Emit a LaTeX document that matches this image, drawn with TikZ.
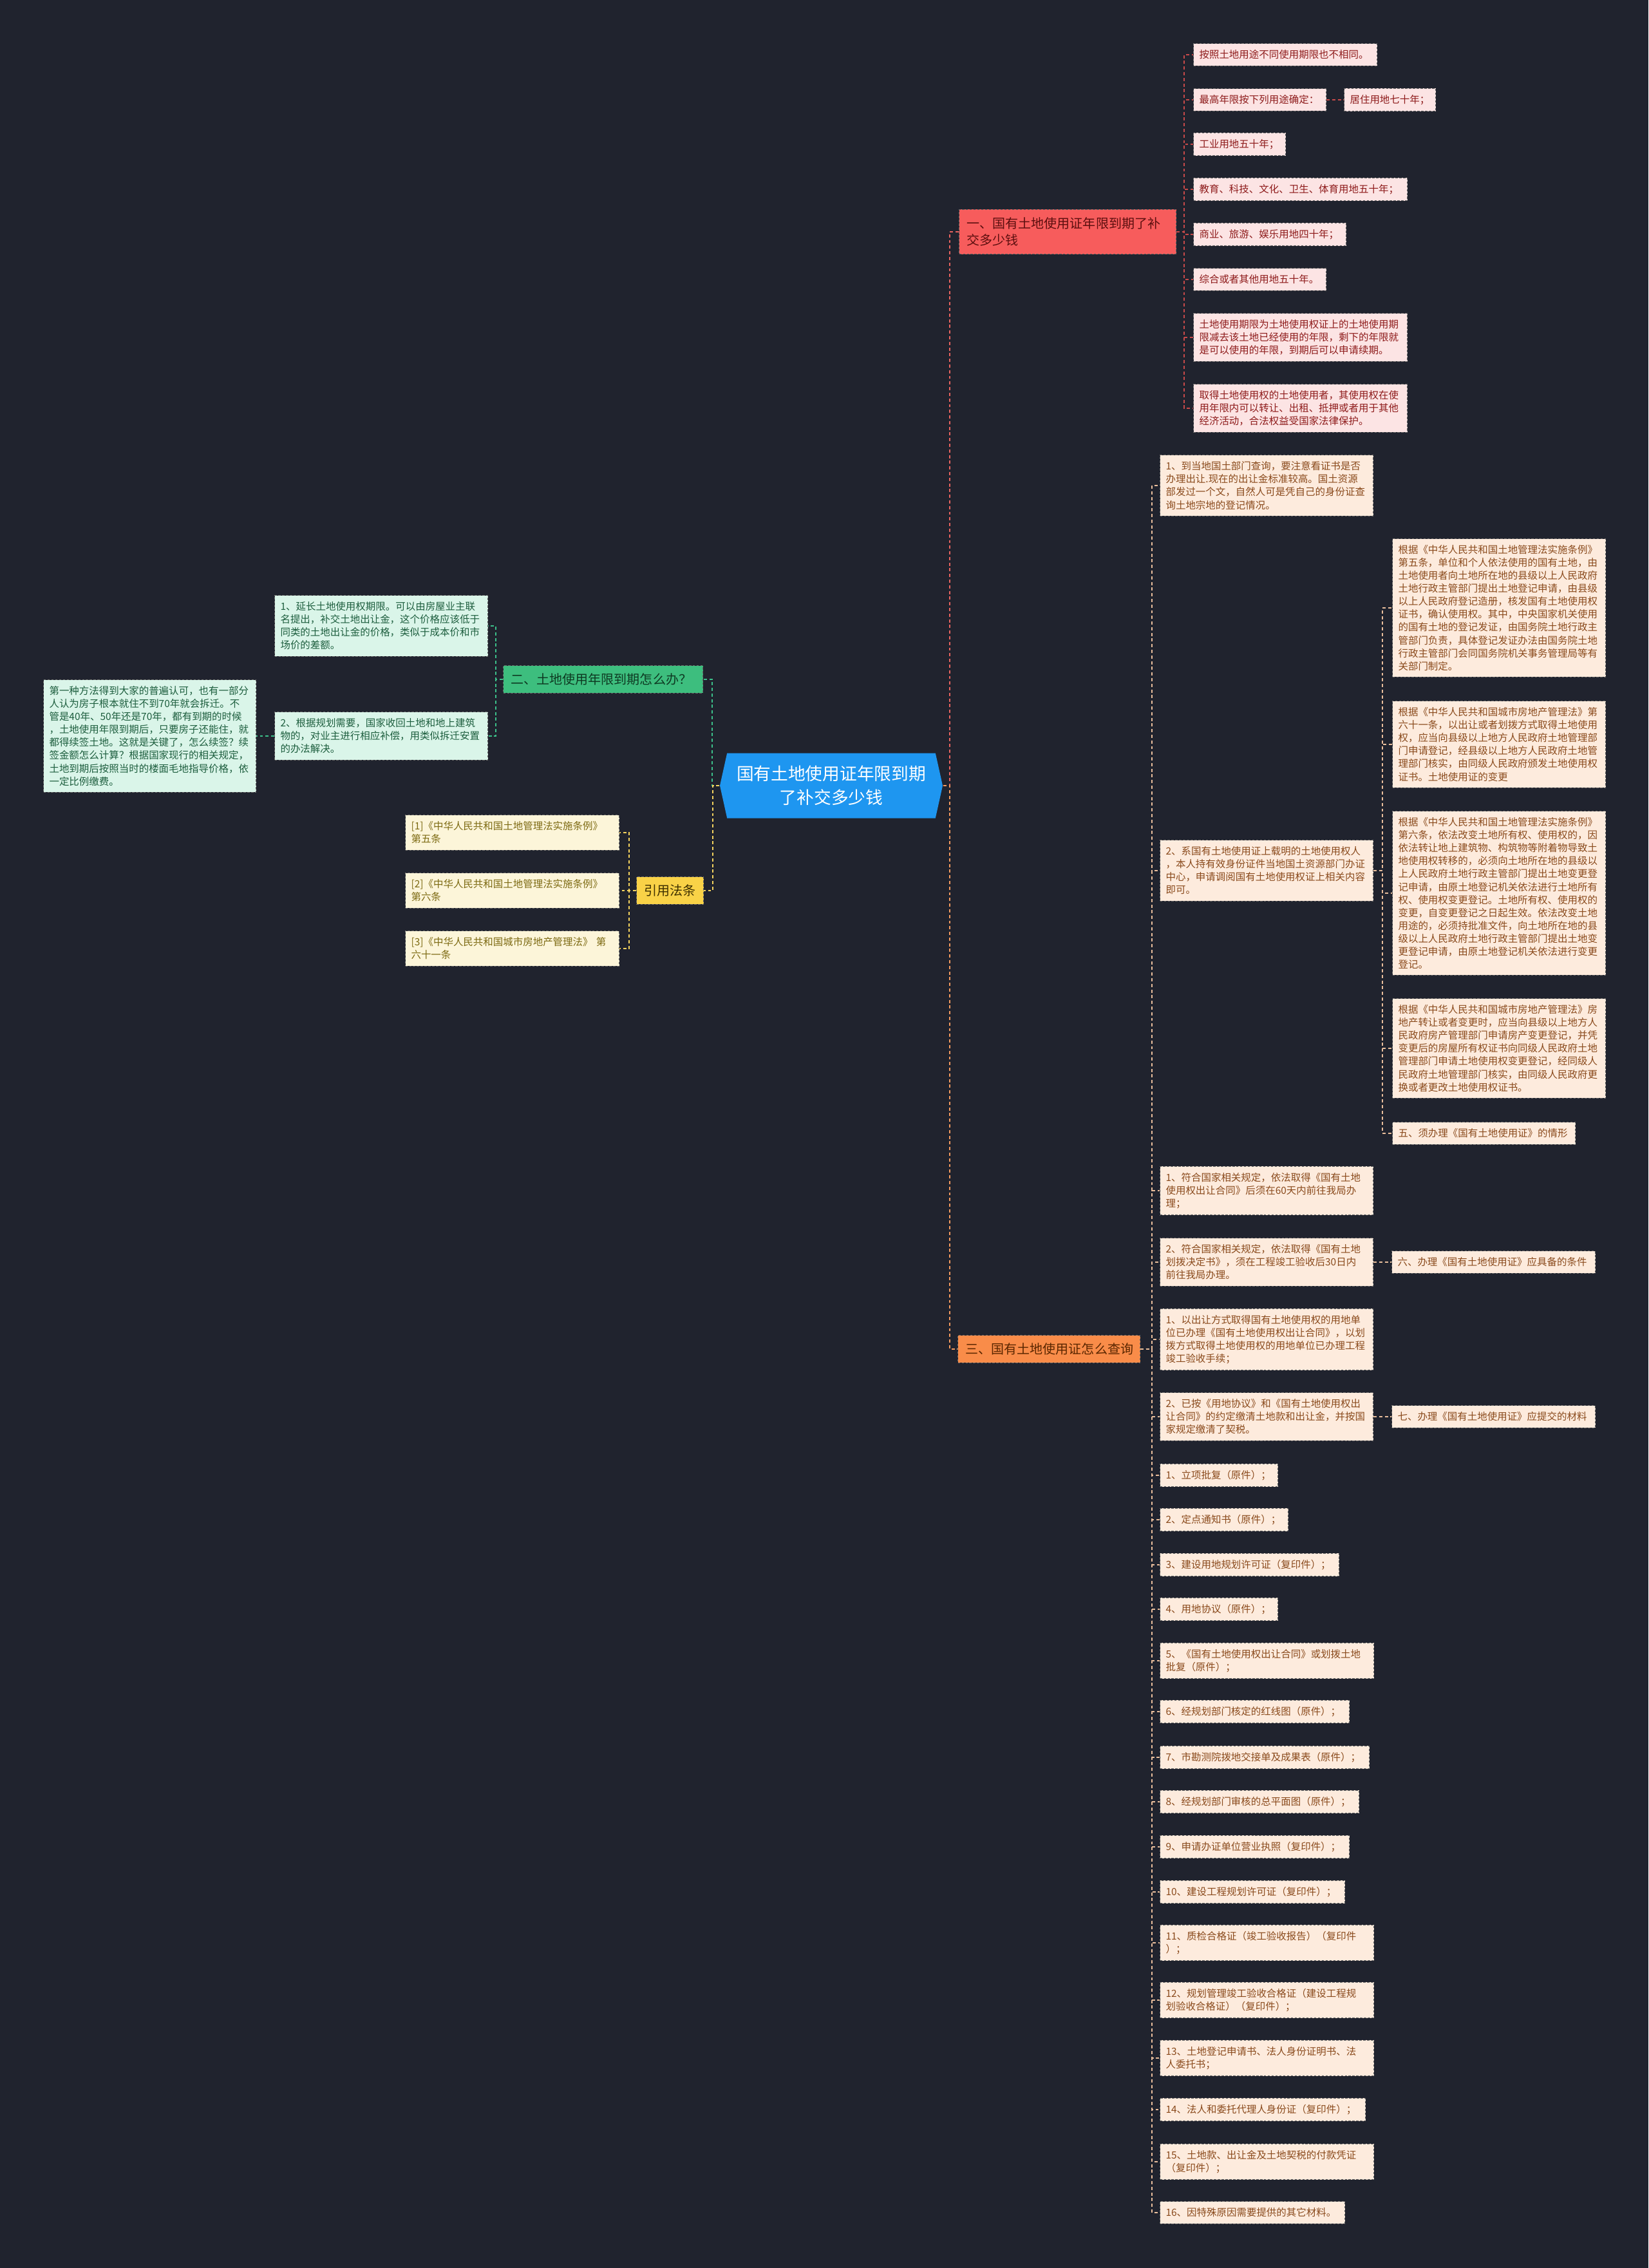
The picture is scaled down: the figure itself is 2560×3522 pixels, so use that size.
\documentclass[tikz,border=0pt]{standalone}
\usepackage{fontspec}
\setmainfont{Noto Sans CJK SC}
\usepackage{tikz}
\usetikzlibrary{shapes.symbols}

\newdimen\pxu \pxu=0.01cm
\newcommand{\cenfont}{\fontsize{7.6pt}{10.4pt}\selectfont}
\newcommand{\brfont}{\fontsize{5.7pt}{7.6pt}\selectfont}
\newcommand{\lffont}{\fontsize{4.4pt}{5.7pt}\selectfont}

\definecolor{bgcol}{HTML}{20232E}
\definecolor{rootF}{HTML}{1E96F0}
\definecolor{redF}{HTML}{F75C5C}   \definecolor{redT}{HTML}{5C0F0F}
\definecolor{pinkF}{HTML}{FCE4E4}  \definecolor{pinkT}{HTML}{8E1B1B}
\definecolor{grnF}{HTML}{3DBE7E}   \definecolor{grnT}{HTML}{0E3A22}
\definecolor{mintF}{HTML}{DAF5E9}  \definecolor{mintT}{HTML}{1D5E3E}
\definecolor{yelF}{HTML}{F9D247}   \definecolor{yelT}{HTML}{3E3000}
\definecolor{creamF}{HTML}{FCF5D9} \definecolor{creamT}{HTML}{7D6A12}
\definecolor{orgF}{HTML}{F98C49}   \definecolor{orgT}{HTML}{5A2600}
\definecolor{peachF}{HTML}{FDEBDD} \definecolor{peachT}{HTML}{8A4A1C}
\definecolor{lineR}{HTML}{E8635F}  \definecolor{lineO}{HTML}{F39A5F}
\definecolor{lineG}{HTML}{3CC08A}  \definecolor{lineY}{HTML}{F4D35E}
\definecolor{lineP}{HTML}{E9BE9C}  \definecolor{lineK}{HTML}{C84A4A}

\begin{document}
\begin{tikzpicture}[x=0.01cm,y=-0.01cm]
	 \tikzstyle{box}=[draw=black!60,dash pattern=on 1pt off 0.7pt,line width=0.3pt,align=left,anchor=west,inner xsep=9\pxu,inner ysep=10\pxu,font=\lffont]
	 \tikzstyle{branch}=[box,inner xsep=12\pxu,inner ysep=12\pxu,font=\brfont]
	 \tikzstyle{leafR}=[box,fill=pinkF,text=pinkT]
	 \tikzstyle{leafG}=[box,fill=mintF,text=mintT]
	 \tikzstyle{leafY}=[box,fill=creamF,text=creamT]
	 \tikzstyle{leafO}=[box,fill=peachF,text=peachT]
	 \tikzstyle{ln}=[dash pattern=on 1.4pt off 1.1pt,line width=0.5pt]
	 \fill[bgcol] (0,0) rectangle (2560,3522);

	 % root and branches
	 \node[signal,signal to=west and east,signal pointer angle=155,fill=rootF,text=white,font=\cenfont,align=center,minimum width=346\pxu,minimum height=101\pxu,inner sep=0pt] (root) at (1291,1220) {国有土地使用证年限到期\\了补交多少钱};
	 \node[branch,fill=redF,text=redT,text width=313\pxu] (b1) at (1489,360) {一、国有土地使用证年限到期了补\\交多少钱};
	 \node[branch,fill=grnF,text=grnT,text width=286\pxu] (b2) at (781,1055) {二、土地使用年限到期怎么办？};
	 \node[branch,fill=yelF,text=yelT,text width=80\pxu] (yq) at (988,1383) {引用法条};
	 \node[branch,fill=orgF,text=orgT,text width=259\pxu] (b3) at (1487,2095) {三、国有土地使用证怎么查询};

	 % branch one
	 \node[leafR,text width=267\pxu] (l1) at (1853,85) {按照土地用途不同使用期限也不相同。};
	 \node[leafR,text width=188\pxu] (l2) at (1853,155) {最高年限按下列用途确定：};
	 \node[leafR,text width=124\pxu] (l2a) at (2087,155) {居住用地七十年；};
	 \node[leafR,text width=125\pxu] (l3) at (1853,224) {工业用地五十年；};
	 \node[leafR,text width=314\pxu] (l4) at (1853,294) {教育、科技、文化、卫生、体育用地五十年；};
	 \node[leafR,text width=219\pxu] (l5) at (1853,364) {商业、旅游、娱乐用地四十年；};
	 \node[leafR,text width=188\pxu] (l6) at (1853,434) {综合或者其他用地五十年。};
	 \node[leafR,text width=314\pxu] (l7) at (1853,524) {土地使用期限为土地使用权证上的土地使用期\\限减去该土地已经使用的年限，剩下的年限就\\是可以使用的年限，到期后可以申请续期。};
	 \node[leafR,text width=314\pxu] (l8) at (1853,634) {取得土地使用权的土地使用者，其使用权在使\\用年限内可以转让、出租、抵押或者用于其他\\经济活动，合法权益受国家法律保护。};

	 % branch two
	 \node[leafG,text width=313\pxu] (a1) at (426,972) {1、延长土地使用权期限。可以由房屋业主联\\名提出，补交土地出让金，这个价格应该低于\\同类的土地出让金的价格，类似于成本价和市\\场价的差额。};
	 \node[leafG,text width=313\pxu] (a2) at (426,1143) {2、根据规划需要，国家收回土地和地上建筑\\物的，对业主进行相应补偿，用类似拆迁安置\\的办法解决。};
	 \node[leafG,text width=312\pxu] (a3) at (67,1143) {第一种方法得到大家的普遍认可，也有一部分\\人认为房子根本就住不到70年就会拆迁。不\\管是40年、50年还是70年，都有到期的时候\\，土地使用年限到期后，只要房子还能住，就\\都得续签土地。这就是关键了，怎么续签？续\\签金额怎么计算？根据国家现行的相关规定，\\土地到期后按照当时的楼面毛地指导价格，依\\一定比例缴费。};

	 % cited laws
	 \node[leafY,text width=314\pxu] (r1) at (629,1293) {[1]《中华人民共和国土地管理法实施条例》\\第五条};
	 \node[leafY,text width=314\pxu] (r2) at (629,1383) {[2]《中华人民共和国土地管理法实施条例》\\第六条};
	 \node[leafY,text width=314\pxu] (r3) at (629,1473) {[3]《中华人民共和国城市房地产管理法》 第\\六十一条};

	 % branch three
	 \node[leafO,text width=313\pxu] (s1) at (1801,754) {1、到当地国土部门查询，要注意看证书是否\\办理出让.现在的出让金标准较高。国土资源\\部发过一个文，自然人可是凭自己的身份证查\\询土地宗地的登记情况。};
	 \node[leafO,text width=313\pxu] (s2) at (1801,1352) {2、系国有土地使用证上载明的土地使用权人\\，本人持有效身份证件当地国土资源部门办证\\中心，申请调阅国有土地使用权证上相关内容\\即可。};
	 \node[leafO,text width=313\pxu] (g1) at (2162,944) {根据《中华人民共和国土地管理法实施条例》\\第五条，单位和个人依法使用的国有土地，由\\土地使用者向土地所在地的县级以上人民政府\\土地行政主管部门提出土地登记申请，由县级\\以上人民政府登记造册，核发国有土地使用权\\证书，确认使用权。其中，中央国家机关使用\\的国有土地的登记发证，由国务院土地行政主\\管部门负责，具体登记发证办法由国务院土地\\行政主管部门会同国务院机关事务管理局等有\\关部门制定。};
	 \node[leafO,text width=313\pxu] (g2) at (2162,1156) {根据《中华人民共和国城市房地产管理法》第\\六十一条，以出让或者划拨方式取得土地使用\\权，应当向县级以上地方人民政府土地管理部\\门申请登记，经县级以上地方人民政府土地管\\理部门核实，由同级人民政府颁发土地使用权\\证书。土地使用证的变更};
	 \node[leafO,text width=313\pxu] (g3) at (2162,1387) {根据《中华人民共和国土地管理法实施条例》\\第六条，依法改变土地所有权、使用权的，因\\依法转让地上建筑物、构筑物等附着物导致土\\地使用权转移的，必须向土地所在地的县级以\\上人民政府土地行政主管部门提出土地变更登\\记申请，由原土地登记机关依法进行土地所有\\权、使用权变更登记。土地所有权、使用权的\\变更，自变更登记之日起生效。依法改变土地\\用途的，必须持批准文件，向土地所在地的县\\级以上人民政府土地行政主管部门提出土地变\\更登记申请，由原土地登记机关依法进行变更\\登记。};
	 \node[leafO,text width=313\pxu] (g4) at (2162,1628) {根据《中华人民共和国城市房地产管理法》房\\地产转让或者变更时，应当向县级以上地方人\\民政府房产管理部门申请房产变更登记，并凭\\变更后的房屋所有权证书向同级人民政府土地\\管理部门申请土地使用权变更登记，经同级人\\民政府土地管理部门核实，由同级人民政府更\\换或者更改土地使用权证书。};
	 \node[leafO,text width=266\pxu] (g5) at (2162,1760) {五、须办理《国有土地使用证》的情形};
	 \node[leafO,text width=313\pxu] (s3) at (1801,1849) {1、符合国家相关规定，依法取得《国有土地\\使用权出让合同》后须在60天内前往我局办\\理；};
	 \node[leafO,text width=313\pxu] (s4) at (1801,1960) {2、符合国家相关规定，依法取得《国有土地\\划拨决定书》，须在工程竣工验收后30日内\\前往我局办理。};
	 \node[leafO,text width=298\pxu] (six) at (2161,1960) {六、办理《国有土地使用证》应具备的条件};
	 \node[leafO,text width=313\pxu] (s5) at (1801,2080) {1、以出让方式取得国有土地使用权的用地单\\位已办理《国有土地使用权出让合同》，以划\\拨方式取得土地使用权的用地单位已办理工程\\竣工验收手续；};
	 \node[leafO,text width=313\pxu] (s6) at (1801,2200) {2、已按《用地协议》和《国有土地使用权出\\让合同》的约定缴清土地款和出让金，并按国\\家规定缴清了契税。};
	 \node[leafO,text width=298\pxu] (seven) at (2161,2200) {七、办理《国有土地使用证》应提交的材料};

	 \node[leafO,text width=165\pxu] (m1) at (1801,2291) {1、立项批复（原件）；};
	 \node[leafO,text width=181\pxu] (m2) at (1801,2360) {2、定点通知书（原件）；};
	 \node[leafO,text width=260\pxu] (m3) at (1801,2430) {3、建设用地规划许可证（复印件）；};
	 \node[leafO,text width=165\pxu] (m4) at (1801,2499) {4、用地协议（原件）；};
	 \node[leafO,text width=314\pxu] (m5) at (1801,2579) {5、《国有土地使用权出让合同》或划拨土地\\批复（原件）；};
	 \node[leafO,text width=276\pxu] (m6) at (1801,2658) {6、经规划部门核定的红线图（原件）；};
	 \node[leafO,text width=307\pxu] (m7) at (1801,2729) {7、市勘测院拨地交接单及成果表（原件）；};
	 \node[leafO,text width=291\pxu] (m8) at (1801,2798) {8、经规划部门审核的总平面图（原件）；};
	 \node[leafO,text width=276\pxu] (m9) at (1801,2868) {9、申请办证单位营业执照（复印件）；};
	 \node[leafO,text width=269\pxu] (m10) at (1801,2938) {10、建设工程规划许可证（复印件）；};
	 \node[leafO,text width=314\pxu] (m11) at (1801,3017) {11、质检合格证（竣工验收报告）（复印件\\）；};
	 \node[leafO,text width=314\pxu] (m12) at (1801,3106) {12、规划管理竣工验收合格证（建设工程规\\划验收合格证）（复印件）；};
	 \node[leafO,text width=314\pxu] (m13) at (1801,3196) {13、土地登记申请书、法人身份证明书、法\\人委托书；};
	 \node[leafO,text width=301\pxu] (m14) at (1801,3276) {14、法人和委托代理人身份证（复印件）；};
	 \node[leafO,text width=314\pxu] (m15) at (1801,3357) {15、土地款、出让金及土地契税的付款凭证\\（复印件）；};
	 \node[leafO,text width=269\pxu] (m16) at (1801,3436) {16、因特殊原因需要提供的其它材料。};

	 % connectors
	 \draw[ln,lineR] (root.east) -| ([xshift=-14\pxu]b1.west) -- (b1.west);
	 \draw[ln,lineO] (root.east) -| ([xshift=-12\pxu]b3.west) -- (b3.west);
	 \draw[ln,lineG] (root.west) -| ([xshift=14\pxu]b2.east) -- (b2.east);
	 \draw[ln,lineY] (root.west) -| ([xshift=14\pxu]yq.east) -- (yq.east);
	 \foreach \n in {l1,l2,l3,l4,l5,l6,l7,l8}
		 \draw[ln,lineK] (b1.east) -| ([xshift=-14\pxu]\n.west) -- (\n.west);
	 \draw[ln,lineK] (l2.east) -- (l2a.west);
	 \foreach \n in {a1,a2}
		 \draw[ln,lineG] (b2.west) -| ([xshift=12\pxu]\n.east) -- (\n.east);
	 \draw[ln,lineG] (a2.west) -- (a3.east);
	 \foreach \n in {r1,r2,r3}
		 \draw[ln,lineY] (yq.west) -| ([xshift=15\pxu]\n.east) -- (\n.east);
	 \foreach \n in {s1,s2,s3,s4,s5,s6,m1,m2,m3,m4,m5,m6,m7,m8,m9,m10,m11,m12,m13,m14,m15,m16}
		 \draw[ln,lineP] (b3.east) -| ([xshift=-12\pxu]\n.west) -- (\n.west);
	 \foreach \n in {g1,g2,g3,g4,g5}
		 \draw[ln,lineP] (s2.east) -| ([xshift=-15\pxu]\n.west) -- (\n.west);
	 \draw[ln,lineP] (s4.east) -- (six.west);
	 \draw[ln,lineP] (s6.east) -- (seven.west);
\end{tikzpicture}
\end{document}
